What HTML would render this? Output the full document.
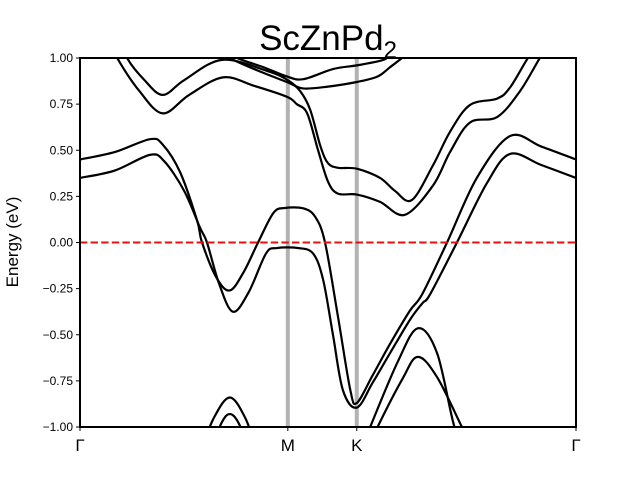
<!DOCTYPE html>
<html><head><meta charset="utf-8"><style>
body{margin:0;background:#fff;}
svg text{font-family:"Liberation Sans","DejaVu Sans",sans-serif;}
</style></head><body>
<svg id="chart" width="640" height="480" xmlns="http://www.w3.org/2000/svg">
<defs><clipPath id="clip"><rect x="80" y="58" width="496" height="369"/></clipPath></defs>
<text x="328" y="50" font-size="35" text-anchor="middle">ScZnPd<tspan font-size="24" dy="8">2</tspan></text>
<g id="plot" clip-path="url(#clip)"></g>
<g id="axes"></g>
</svg>
<script>
const kTicks = [0, 0.419, 0.558, 1];
const kTickLabels = ["Γ", "M", "K", "Γ"];
const yTicks = [-1, -0.75, -0.5, -0.25, 0, 0.25, 0.5, 0.75, 1];
const yTickLabels = ["−1.00","−0.75","−0.50","−0.25","0.00","0.25","0.50","0.75","1.00"];
const fermiLevel = 0;
const band1K = [0,.07,.141,.167,.202,.236,.246,.275,.302,.33,.359,.39,.413,.45,.474,.494,.52,.545,.558,.59,.625,.665,.69,.74,.80,.867,.93,1];
const band1E = [0.45,0.49,0.56,0.53,0.38,0.12,0.0,-0.19,-0.26,-0.16,0,0.16,0.187,0.185,0.14,0,-0.4,-0.80,-0.87,-0.72,-0.55,-0.37,-0.28,0,0.35,0.577,0.52,0.45];
const band2K = [0,.07,.141,.17,.21,.242,.256,.28,.308,.34,.375,.397,.44,.47,.49,.51,.53,.558,.59,.625,.665,.69,.706,.76,.82,.867,.93,1];
const band2E = [0.35,0.39,0.475,0.44,0.28,0.08,0,-0.22,-0.375,-0.27,-0.06,-0.03,-0.03,-0.06,-0.2,-0.5,-0.8,-0.895,-0.76,-0.6,-0.42,-0.33,-0.28,0,0.32,0.48,0.42,0.35];
const band3K = [.24,.27,.302,.333,.36];
const band3E = [-1.15,-0.95,-0.84,-0.95,-1.15];
const band4K = [.26,.285,.302,.32,.345];
const band4E = [-1.15,-0.98,-0.93,-0.98,-1.15];
const band5K = [.57,.585,.64,.681,.72,.755,.78];
const band5E = [-1.1,-1.0,-0.65,-0.465,-0.6,-1.0,-1.12];
const band6K = [.585,.60,.65,.681,.72,.77,.79];
const band6E = [-1.1,-1.0,-0.74,-0.62,-0.73,-1.0,-1.1];
const band7K = [.06,.075,.12,.167,.22,.288,.35,.417,.437,.458,.48,.50,.52,.558,.605,.655,.712,.746,.786,.841,.887,.927,.95];
const band7E = [1.1,1.0,0.82,0.70,0.80,0.895,0.85,0.79,0.75,0.70,0.50,0.33,0.265,0.26,0.22,0.15,0.31,0.49,0.65,0.68,0.82,1.0,1.1];
const band8K = [.085,.095,.13,.167,.21,.286,.377,.419,.444,.464,.485,.50,.52,.558,.605,.635,.669,.712,.746,.786,.841,.867,.903,.93];
const band8E = [1.1,1.0,0.88,0.80,0.88,0.99,0.93,0.88,0.82,0.72,0.52,0.43,0.405,0.40,0.35,0.28,0.23,0.42,0.60,0.745,0.78,0.84,1.0,1.1];
const band9K = [.29,.317,.37,.417,.45,.51,.558,.605,.619,.64];
const band9E = [1.05,1.0,0.95,0.90,0.885,0.94,0.96,0.985,1.0,1.05];
const band10K = [.28,.302,.36,.417,.45,.50,.558,.60,.625,.649,.67];
const band10E = [1.05,1.0,0.93,0.87,0.835,0.845,0.87,0.90,0.95,1.0,1.05];

const X0=80,X1=576,Y0=427,Y1=58;
const xs = k => X0 + k*(X1-X0);
const ys = e => Y0 - (e+1)/2*(Y0-Y1);
const NS="http://www.w3.org/2000/svg";
const plot=document.getElementById('plot'), axes=document.getElementById('axes');
function mk(tag, attrs, parent){const el=document.createElementNS(NS,tag);for(const a in attrs)el.setAttribute(a,attrs[a]);parent.appendChild(el);return el;}

[kTicks[1],kTicks[2]].forEach((k,i)=>{
  const l=mk('line',{x1:xs(k),x2:xs(k),y1:Y1,y2:Y0,stroke:'#b3b3b3','stroke-width':4},plot);
  
  
});
function smooth(K,E){
  const p=K.map((k,i)=>[xs(k),ys(E[i])]);
  let d='M'+p[0][0]+','+p[0][1];
  for(let i=0;i<p.length-1;i++){
    const a=p[Math.max(0,i-1)],b=p[i],c=p[i+1],e=p[Math.min(p.length-1,i+2)];
    const c1=[b[0]+(c[0]-a[0])/6,b[1]+(c[1]-a[1])/6],c2=[c[0]-(e[0]-b[0])/6,c[1]-(e[1]-b[1])/6];
    d+=' C'+c1[0]+','+c1[1]+' '+c2[0]+','+c2[1]+' '+c[0]+','+c[1];
  }
  return d;
}
const bands=[[band1K,band1E],[band2K,band2E],[band3K,band3E],[band4K,band4E],[band5K,band5E],[band6K,band6E],[band7K,band7E],[band8K,band8E],[band9K,band9E],[band10K,band10E]];
bands.forEach((b,i)=>{
  const p=mk('path',{d:smooth(b[0],b[1]),fill:'none',stroke:'#000','stroke-width':2.2},plot);
  
  
});
const fl=mk('line',{x1:X0,x2:X1,y1:ys(fermiLevel),y2:ys(fermiLevel),stroke:'#e8100f','stroke-width':2,'stroke-dasharray':'7.4,3.2'},plot);



const fr=mk('rect',{x:X0,y:Y1,width:X1-X0,height:Y0-Y1,fill:'none',stroke:'#000','stroke-width':2},axes);


yTicks.forEach((v,i)=>{
  const t=mk('line',{x1:X0-4,x2:X0,y1:ys(v),y2:ys(v),stroke:'#000','stroke-width':1},axes);
  
  
  const tx=mk('text',{x:X0-7,y:ys(v)+4,'font-size':12,'text-anchor':'end'},axes);
  tx.textContent=yTickLabels[i];
  
  
});
kTicks.forEach((k,i)=>{
  const t=mk('line',{x1:xs(k),x2:xs(k),y1:Y0,y2:Y0+4,stroke:'#000','stroke-width':1},axes);
  
  
  const tx=mk('text',{x:xs(k),y:Y0+24,'font-size':17,'text-anchor':'middle'},axes);
  tx.textContent=kTickLabels[i];
  
  
});
const yt=mk('text',{x:0,y:0,'font-size':17,'text-anchor':'middle',transform:'translate(18,242) rotate(-90)'},axes);
yt.textContent='Energy (eV)';


</script>
</body></html>
